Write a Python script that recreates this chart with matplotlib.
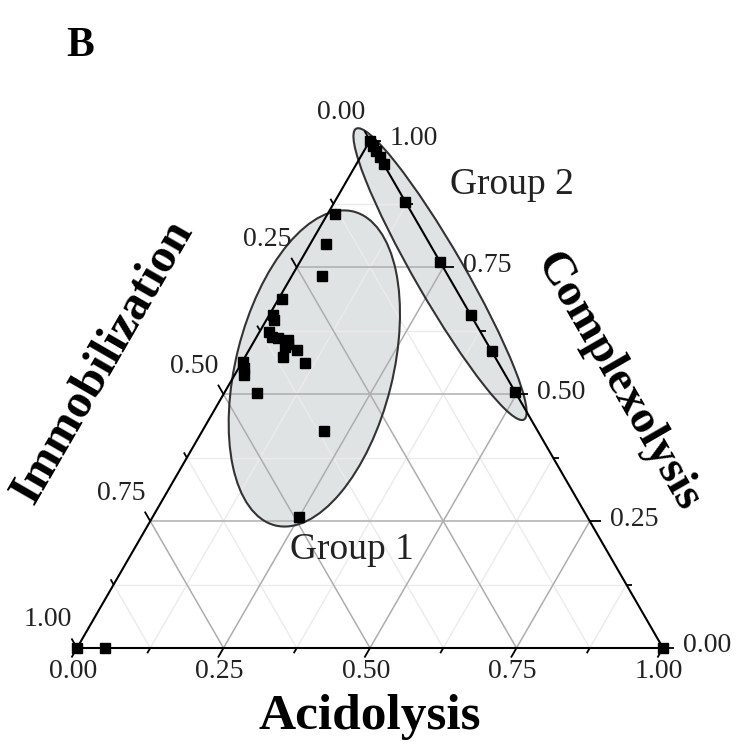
import numpy as np
import matplotlib
matplotlib.use("Agg")
import matplotlib.pyplot as plt
from matplotlib.patches import Ellipse, Polygon

# ---- data (ternary fractions: acidolysis, complexolysis; immobilization = 1 - a - c)
g1_acid = [0.013, 0.027, 0.052, 0.006, 0.006, 0.013, 0.016, 0.026, 0.038, 0.057,
           0.058, 0.060, 0.082, 0.065, 0.108, 0.001, 0.009, 0.016, 0.056, 0.208, 0.250]
g1_comp = [0.855, 0.796, 0.733, 0.688, 0.656, 0.646, 0.623, 0.613, 0.611, 0.607,
           0.593, 0.599, 0.587, 0.573, 0.562, 0.564, 0.552, 0.538, 0.502, 0.428, 0.258]
g2_comp = [1.000, 0.989, 0.979, 0.967, 0.953, 0.879, 0.761, 0.656, 0.585, 0.504]
g2_acid = [1 - c for c in g2_comp]
base_acid = [0.0, 0.048, 1.0]
base_comp = [0.0, 0.0, 0.0]

major = [0.0, 0.25, 0.5, 0.75, 1.0]
minor = [0.125, 0.375, 0.625, 0.875]
tick_text = ["0.00", "0.25", "0.50", "0.75", "1.00"]

H = np.sqrt(3) / 2
PX = 1 / 586.0  # one pixel in data units


def xy(a, c):
    a = np.asarray(a, float)
    c = np.asarray(c, float)
    return a + c / 2, c * H


fig = plt.figure(figsize=(7.41, 7.49), dpi=100)
ax = fig.add_axes([0, 0, 1, 1])
ax.set_xlim(-77 / 586, 664 / 586)
ax.set_ylim(-101 / 586, 648 / 586)
ax.axis("off")

serif = "Liberation Serif"

# grid lines
def gridlines(vals, color, lw, z):
    for v in vals:
        # constant complexolysis (horizontal)
        ax.plot([v / 2, 1 - v / 2], [v * H, v * H], color=color, lw=lw, zorder=z)
        # constant acidolysis
        ax.plot([v, (1 + v) / 2], [0, (1 - v) * H], color=color, lw=lw, zorder=z)
        # constant immobilization
        ax.plot([(1 - v) / 2, 1 - v], [(1 - v) * H, 0], color=color, lw=lw, zorder=z)

# group ellipses
ell_specs = [((0.405, 0.477), 0.552, 0.268, 76),
             ((0.6195, 0.638), 0.573, 0.084, -60)]
for (cen, w, h, ang) in ell_specs:
    ax.add_patch(Ellipse(cen, w, h, angle=ang, facecolor="#e0e3e4",
                         edgecolor="none", zorder=0.5))

gridlines(minor, "#ebebeb", 1.0, 1)
gridlines([0.25, 0.5, 0.75], "#adadad", 1.1, 1.2)

for (cen, w, h, ang) in ell_specs:
    ax.add_patch(Ellipse(cen, w, h, angle=ang, facecolor="none",
                         edgecolor="#333333", lw=1.5, zorder=2))

# triangle border
ax.add_patch(Polygon([[0, 0], [1, 0], [0.5, H]], closed=True, fill=False,
                     edgecolor="black", lw=1.5, zorder=2.5))

# ticks
dirs = {"bottom": (-0.5, -H), "right": (1.0, 0.0), "left": (-0.5, H)}
def edge_pt(side, v):
    if side == "bottom":
        return v, 0.0
    if side == "right":
        return 1 - v / 2, v * H
    return (1 - v) / 2, (1 - v) * H

for side in ["bottom", "right", "left"]:
    dx, dy = dirs[side]
    for vals, L in ((major, 11), (minor, 6)):
        for v in vals:
            x0, y0 = edge_pt(side, v)
            ax.plot([x0, x0 + dx * L * PX], [y0, y0 + dy * L * PX],
                    color="black", lw=1.3, zorder=2.5, solid_capstyle="butt")

fs_tick = 20
for v, t in zip(major, tick_text):
    x0, y0 = edge_pt("bottom", v)
    ax.text(x0 - 4 * PX, y0 - 24 * PX, t, ha="center", va="center",
            fontsize=fs_tick, family=serif, color="#222222")
    x0, y0 = edge_pt("right", v)
    ax.text(x0 + 20 * PX, y0 + 2 * PX, t, ha="left", va="center",
            fontsize=fs_tick, family=serif, color="#222222")
    x0, y0 = edge_pt("left", v)
    ax.text(x0 - 5 * PX, y0 + 28 * PX, t, ha="right", va="center",
            fontsize=fs_tick, family=serif, color="#222222")

# data points
ms = 6.5
for a, c in ((g1_acid, g1_comp), (g2_acid, g2_comp), (base_acid, base_comp)):
    x, y = xy(a, c)
    ax.plot(x, y, "s", color="black", markersize=ms, zorder=4, clip_on=False)

# axis titles
ax.text(0.5, -0.1177, "Acidolysis", ha="center", va="center", fontsize=37,
        family=serif, fontweight="bold")
ax.text(0.0444, 0.488, "Immobilization", ha="center", va="center", fontsize=35,
        family=serif, fontweight="bold", rotation=60, rotation_mode="anchor")
ax.text(0.923, 0.454, "Complexolysis", ha="center", va="center", fontsize=34,
        family=serif, fontweight="bold", rotation=-60, rotation_mode="anchor")

ax.text(0.469, 0.167, "Group 1", ha="center", va="center", fontsize=27,
        family=serif, color="#222222")
ax.text(0.742, 0.790, "Group 2", ha="center", va="center", fontsize=27,
        family=serif, color="#222222")

ax.text(0.005, 1.027, "B", ha="center", va="center", fontsize=30,
        family=serif, fontweight="bold")

fig.savefig("out.png", dpi=100)
